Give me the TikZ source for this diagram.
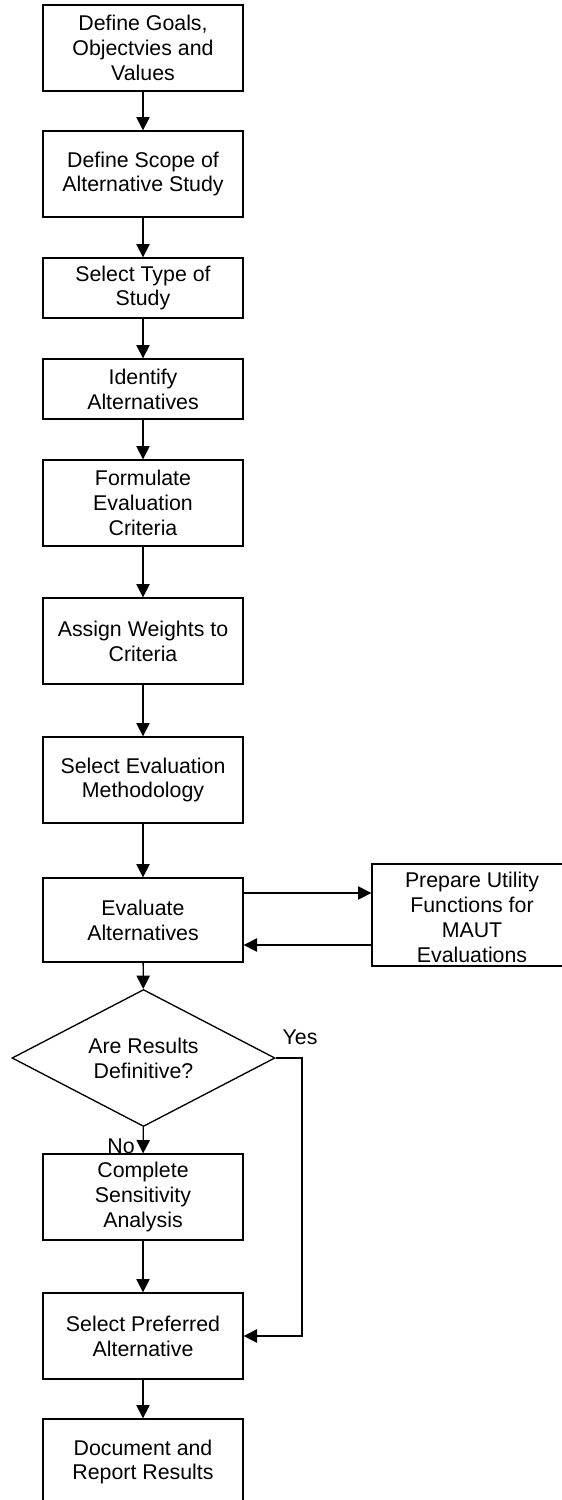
\documentclass[tikz,border=0pt]{standalone}
\usepackage{fontspec}
\setmainfont{Liberation Sans}
\usetikzlibrary{arrows.meta,shapes.geometric}

\begin{document}
\begin{tikzpicture}[x=0.75pt,y=-0.75pt,
  every node/.style={font=\fontsize{16}{18.6}\selectfont},
  stepbox/.style={draw, line width=1pt, minimum width=150pt, align=center, inner sep=0pt},
  tall/.style={stepbox, minimum height=64.5pt},
  short/.style={stepbox, minimum height=45pt},
  decision/.style={draw, line width=1pt, shape=diamond, aspect=1.92, inner sep=0pt,
    minimum width=197.25pt, minimum height=102.75pt, align=center},
  arr/.style={line width=1pt, -{Triangle[length=10pt,width=10pt]}},
  lbl/.style={inner sep=0pt}
]
\useasboundingbox (0,0) rectangle (561,1500);
\fill[white] (0,0) rectangle (561,1500);

% main column of process steps
\node[tall]  (goals)  at (143,48)   {Define Goals,\\Objectvies and\\Values};
\node[tall]  (scope)  at (143,174)  {Define Scope of\\Alternative Study};
\node[short] (type)   at (143,288)  {Select Type of\\Study};
\node[short] (ident)  at (143,389)  {Identify\\Alternatives};
\node[tall]  (crit)   at (143,503)  {Formulate\\Evaluation\\Criteria};
\node[tall]  (wts)    at (143,641)  {Assign Weights to\\Criteria};
\node[tall]  (meth)   at (143,780)  {Select Evaluation\\Methodology};
\node[stepbox, minimum height=63pt] (eval) at (143,920) {Evaluate\\Alternatives};
\node[decision] (dec) at (143.5,1058) {Are Results\\Definitive?};
\node[tall]  (sens)   at (143,1197) {Complete\\Sensitivity\\Analysis};
\node[tall]  (pref)   at (143,1336) {Select Preferred\\Alternative};
\node[tall]  (report) at (143,1462) {Document and\\Report Results};

% side box for utility functions
\node[stepbox, minimum height=76.5pt] (util) at (472,915) {};
\node[align=center, inner sep=0pt] (utiltext) at (472,917.5)
  {Prepare Utility\\Functions for\\MAUT\\Evaluations};

% vertical flow
\draw[arr] (goals) -- (scope);
\draw[arr] (scope) -- (type);
\draw[arr] (type) -- (ident);
\draw[arr] (ident) -- (crit);
\draw[arr] (crit) -- (wts);
\draw[arr] (wts) -- (meth);
\draw[arr] (meth) -- (eval);
\draw[arr] (eval) -- (dec);
\draw[arr] (dec) -- (sens);
\draw[arr] (sens) -- (pref);
\draw[arr] (pref) -- (report);

% loop to and from the utility functions
\coordinate (fwd) at (0,893);
\coordinate (back) at (0,945);
\draw[arr] (eval.east |- fwd) -- (util.west |- fwd);
\draw[arr] (util.west |- back) -- (eval.east |- back);

% "Yes" branch bypassing the sensitivity analysis
\coordinate (yesx) at (302,0);
\draw[arr] (dec.east) -| (yesx |- pref.east) -- (pref.east);

\node[lbl] (yes) at (300,1037) {Yes};
\node[lbl] (no)  at (121,1146) {No};
\end{tikzpicture}
\end{document}
